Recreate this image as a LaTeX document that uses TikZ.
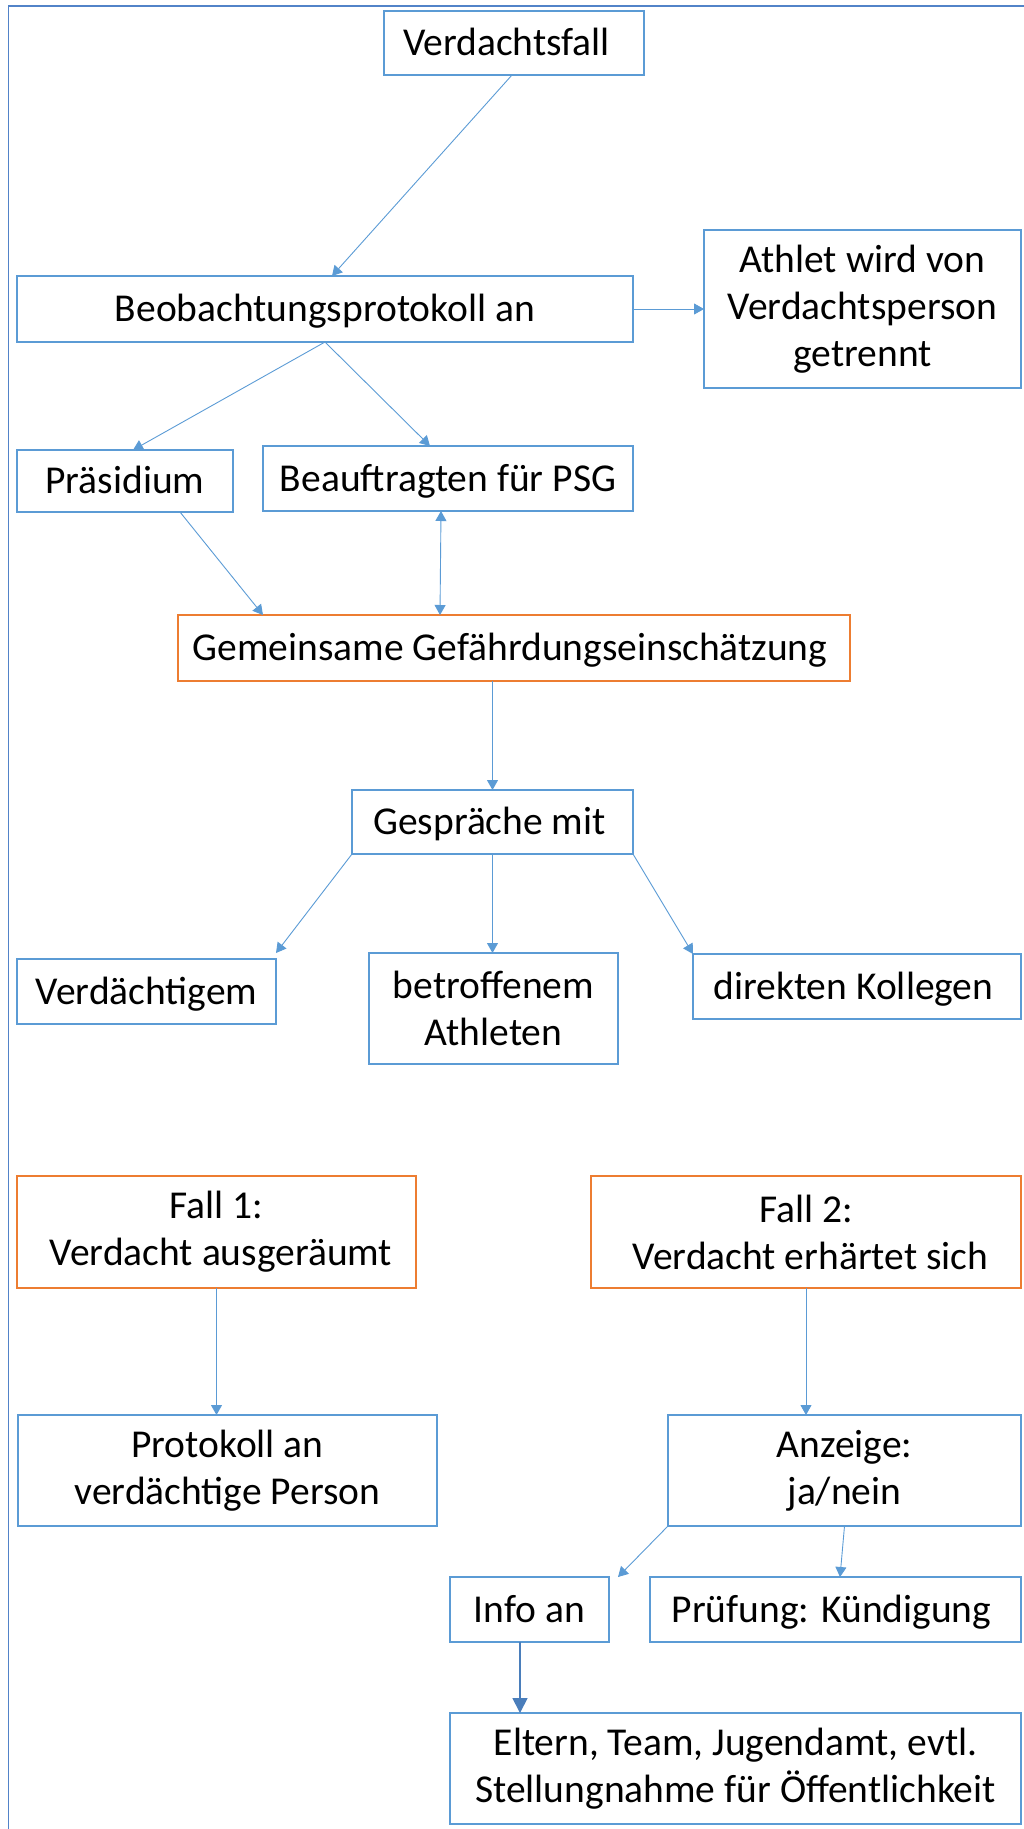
\documentclass[tikz,border=0pt]{standalone}
\usepackage{fontspec}
\setmainfont{Carlito}
\usetikzlibrary{arrows.meta}
\definecolor{boxblue}{HTML}{5B9BD5}
\definecolor{boxorange}{HTML}{ED7D31}
\definecolor{arrowblue}{HTML}{5B9BD5}
\definecolor{darkarrow}{HTML}{4A7EBB}
\definecolor{framecol}{HTML}{5283C8}
\begin{document}
\begin{tikzpicture}[x=1pt,y=-1pt,
  font=\fontsize{39.5pt}{47pt}\selectfont,
  >={Triangle[length=10pt,width=11pt]},
  box/.style={draw=boxblue, line width=1.3pt, inner sep=0pt, outer sep=0pt, align=center, text=black},
  obox/.style={box, draw=boxorange},
  oneline/.style={text height=25.4pt, text depth=0pt},
  conn/.style={draw=arrowblue, line width=0.9pt, ->},
  bigconn/.style={draw=darkarrow, line width=1.7pt, -{Triangle[length=15pt,width=15pt]}},
  framestyle/.style={draw=framecol, line width=1.8pt}
]
\useasboundingbox (0,0) rectangle (1024,1829);
\coordinate (fbl) at (8.5,1829);
\coordinate (ftl) at (8.5,6);
\coordinate (ftr) at (1024,6);
\draw[framestyle] (fbl) -- (ftl) -- (ftr);

% nodes
\node[box, oneline, minimum width=260pt, minimum height=64pt] (verd) at (514,43) {Verdachtsfall\hspace*{15pt}};
\node[box, oneline, minimum width=616pt, minimum height=66pt] (beob) at (325,309) {Beobachtungsprotokoll an};
\node[box, minimum width=317pt, minimum height=158pt] (athl) at (862.5,309) {Athlet wird von\\Verdachtsperson\\getrennt};
\node[box, oneline, minimum width=216pt, minimum height=62pt] (pras) at (125,481) {Präsidium};
\node[box, oneline, minimum width=370pt, minimum height=65pt] (beau) at (448,478.5) {Beauftragten für PSG};
\node[obox, oneline, minimum width=672pt, minimum height=66pt] (gem) at (514,648) {Gemeinsame Gefährdungseinschätzung\hspace*{8pt}};
\node[box, oneline, minimum width=281pt, minimum height=64pt] (gesp) at (492.5,822) {Gespräche mit\hspace*{6pt}};
\node[box, oneline, minimum width=259pt, minimum height=65pt] (verdg) at (146.5,991.5) {Verdächtigem};
\node[box, minimum width=249pt, minimum height=111pt] (betr) at (493.5,1008.5) {betroffenem\\Athleten};
\node[box, oneline, minimum width=328pt, minimum height=65pt] (dir) at (857,986.5) {direkten Kollegen\hspace*{7pt}};
\node[obox, minimum width=399pt, minimum height=112pt] (fall1) at (216.5,1232) {Fall 1:\\\hspace*{9pt}Verdacht ausgeräumt};
\node[obox, minimum width=430pt, minimum height=112pt] (fall2) at (806,1232) {Fall 2:\\\hspace*{9pt}Verdacht erhärtet sich};
\node[box, minimum width=419pt, minimum height=111pt] (prot) at (227.5,1470.5) {Protokoll an\\verdächtige Person};
\node[box, minimum width=353pt, minimum height=111pt] (anz) at (844.5,1470.5) {Anzeige:\\ja/nein};
\node[box, oneline, minimum width=159pt, minimum height=65pt] (info) at (529.5,1609.5) {Info an};
\node[box, oneline, minimum width=371pt, minimum height=65pt] (pruf) at (835.5,1609.5) {Prüfung: Kündigung\hspace*{8pt}};
\node[box, minimum width=571pt, minimum height=111pt] (elt) at (735.5,1768.5) {Eltern, Team, Jugendamt, evtl.\\Stellungnahme für Öffentlichkeit};

% connectors
\draw[conn] ([xshift=-2pt]verd.south) -- ([xshift=7pt]beob.north);
\draw[conn] (beob.east) -- (athl.west);
\draw[conn] (beob.south) -- ([xshift=8pt]pras.north);
\draw[conn] (beob.south) -- ([xshift=-18pt]beau.north);
\draw[conn] ([xshift=55pt]pras.south) -- ([xshift=-251pt]gem.north);
\draw[conn, <->] ([xshift=-7pt]beau.south) -- ([xshift=-74pt]gem.north);
\draw[conn] (gesp.north |- gem.south) -- (gesp.north);
\draw[conn] (gesp.south west) -- ([yshift=6pt]verdg.north east);
\draw[conn] (gesp.south) -- (gesp.south |- betr.north);
\draw[conn] (gesp.south east) -- (dir.north west);
\draw[conn] (fall1.south) -- (fall1.south |- prot.north);
\draw[conn] (fall2.south) -- (fall2.south |- anz.north);
\draw[conn] (anz.south west) -- ([xshift=9pt]info.north east);
\draw[conn] (anz.south) -- ([xshift=4.5pt]pruf.north);
\coordinate (infoout) at ([xshift=-9.5pt]info.south);
\draw[bigconn] (infoout) -- (infoout |- elt.north);
\end{tikzpicture}
\end{document}
